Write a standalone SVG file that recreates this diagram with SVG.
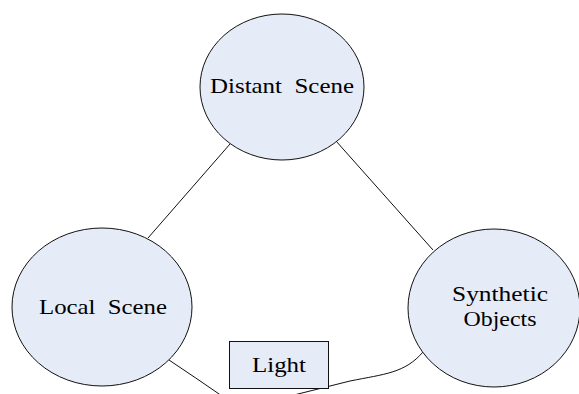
<svg xmlns="http://www.w3.org/2000/svg" width="579" height="394" viewBox="0 0 579 394">
  <style>
    .node { fill: #e6ecf7; stroke: #111; stroke-width: 1; }
    .link { fill: none; stroke: #111; stroke-width: 1; }
    .label { font-family: "Liberation Serif", "Times New Roman", serif; font-size: 21.5px; fill: #000; text-anchor: middle; white-space: pre; }
  </style>
  <rect width="579" height="394" fill="#ffffff"/>
  <g id="connectors">
    <line class="link" x1="230" y1="144" x2="148" y2="238"/>
    <line class="link" x1="336" y1="141" x2="433" y2="250"/>
    <path class="link" d="M169,360 Q196,378 222,396"/>
    <path class="link" d="M423,352 C405,373 385,374 350,381 L290,396"/>
  </g>
  <g id="distant-scene">
    <ellipse class="node" cx="282" cy="87" rx="82" ry="73"/>
    <text class="label" xml:space="preserve" x="282" y="93" textLength="144" lengthAdjust="spacingAndGlyphs">Distant  Scene</text>
  </g>
  <g id="local-scene">
    <ellipse class="node" cx="102" cy="307" rx="90" ry="79"/>
    <text class="label" xml:space="preserve" x="103" y="314" textLength="128" lengthAdjust="spacingAndGlyphs">Local  Scene</text>
  </g>
  <g id="synthetic-objects">
    <ellipse class="node" cx="494" cy="308" rx="86" ry="79"/>
    <text class="label" x="500" y="301" textLength="96" lengthAdjust="spacingAndGlyphs">Synthetic</text>
    <text class="label" x="500" y="326" textLength="73" lengthAdjust="spacingAndGlyphs">Objects</text>
  </g>
  <g id="light">
    <rect class="node" x="229.5" y="341.5" width="99" height="47"/>
    <text class="label" x="279" y="372" textLength="54" lengthAdjust="spacingAndGlyphs">Light</text>
  </g>
</svg>
